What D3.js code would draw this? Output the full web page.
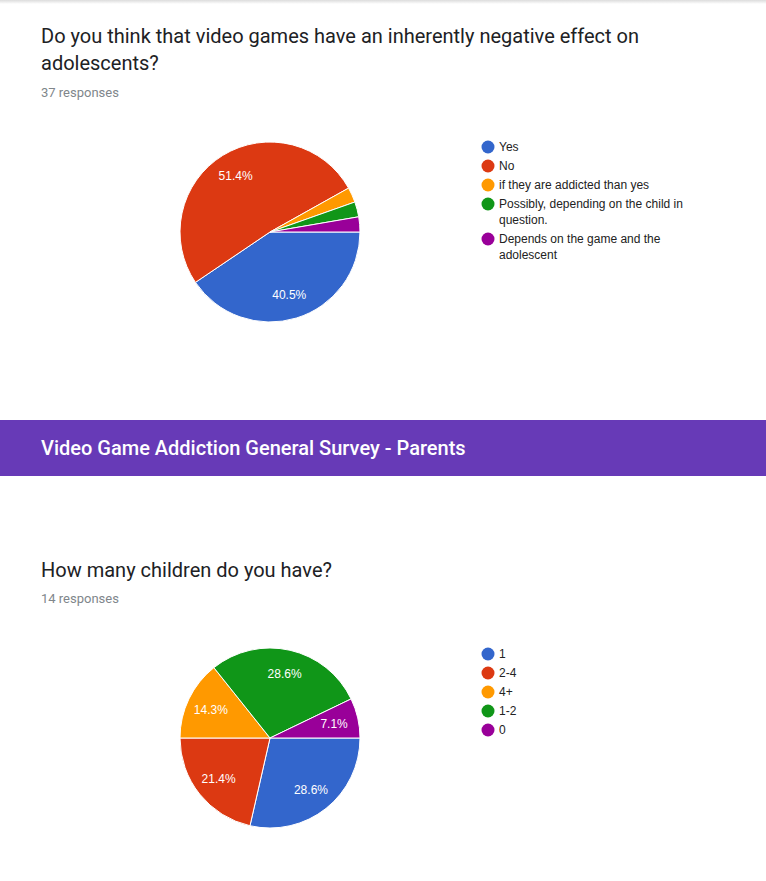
<!DOCTYPE html>
<html>
<head>
<meta charset="utf-8">
<script src="https://cdn.jsdelivr.net/npm/d3@7/dist/d3.min.js"></script>
<style>
  html, body { margin: 0; padding: 0; background: #fff; }
  svg { display: block; }
</style>
</head>
<body>
<svg id="chart" width="766" height="881"></svg>
<script>
// ---- Data ----
const q1Title = ["Do you think that video games have an inherently negative effect on", "adolescents?"];
const q1Responses = "37 responses";
const q1Labels = ["Yes", "No", "if they are addicted than yes", "Possibly, depending on the child in question.", "Depends on the game and the adolescent"];
const q1Values = [15, 19, 1, 1, 1];

const sectionTitle = "Video Game Addiction General Survey - Parents";

const q2Title = ["How many children do you have?"];
const q2Responses = "14 responses";
const q2Labels = ["1", "2-4", "4+", "1-2", "0"];
const q2Values = [4, 3, 2, 4, 1];

const colors = ["#3366cc", "#dc3912", "#ff9900", "#109618", "#990099"];

// ---- Drawing ----
const svg = d3.select("#chart");

// top shadow
const defs = svg.append("defs");
const grad = defs.append("linearGradient").attr("id", "topShadow").attr("x1", 0).attr("x2", 0).attr("y1", 0).attr("y2", 1);
grad.append("stop").attr("offset", "0%").attr("stop-color", "#dcdcdc");
grad.append("stop").attr("offset", "100%").attr("stop-color", "#ffffff");
svg.append("rect").attr("x", 0).attr("y", 0).attr("width", 766).attr("height", 4).attr("fill", "url(#topShadow)");

function drawQuestion(cfg) {
  const g = svg.append("g");
  cfg.title.forEach((line, i) => {
    g.append("text")
      .attr("x", 41).attr("y", cfg.titleY + i * 27)
      .attr("font-family", "Roboto, sans-serif").attr("font-size", 20)
      .attr("fill", "#202124").text(line);
  });
  g.append("text")
    .attr("x", 41).attr("y", cfg.respY)
    .attr("font-family", "Roboto, sans-serif").attr("font-size", 13)
    .attr("fill", "#80868b").text(cfg.responses);

  const radius = 90;
  const pie = d3.pie().sort(null).value(d => d)
    .startAngle(Math.PI / 2).endAngle(Math.PI / 2 + 2 * Math.PI);
  const arcs = pie(cfg.values);
  const arc = d3.arc().innerRadius(0).outerRadius(radius);
  const labelArc = d3.arc().innerRadius(radius * 0.73).outerRadius(radius * 0.73);
  const total = d3.sum(cfg.values);

  const pg = g.append("g").attr("transform", `translate(${cfg.cx},${cfg.cy})`);
  pg.selectAll("path").data(arcs).join("path")
    .attr("d", arc)
    .attr("fill", (d, i) => colors[i])
    .attr("stroke", "#fff").attr("stroke-width", 1);

  pg.selectAll("text").data(arcs.filter(d => d.value / total > 0.05)).join("text")
    .attr("transform", d => `translate(${labelArc.centroid(d)})`)
    .attr("text-anchor", "middle").attr("dy", "0.35em")
    .attr("font-family", "Arial, 'Liberation Sans', sans-serif").attr("font-size", 12)
    .attr("fill", "#fff")
    .text(d => (d.value / total * 100).toFixed(1) + "%");

  // legend
  const lg = g.append("g").attr("transform", `translate(488,${cfg.legendY})`);
  let y = 0;
  cfg.labels.forEach((lab, i) => {
    lg.append("circle").attr("cx", 0).attr("cy", y).attr("r", 6.5).attr("fill", colors[i]);
    const t = lg.append("text")
      .attr("x", 11).attr("y", y).attr("dy", "0.35em")
      .attr("font-family", "Arial, 'Liberation Sans', sans-serif").attr("font-size", 12)
      .attr("fill", "#222");
    // word wrap
    const words = lab.split(" ");
    let lines = [];
    let cur = "";
    const tmp = lg.append("text").attr("font-family", "Arial, 'Liberation Sans', sans-serif").attr("font-size", 12);
    words.forEach(w => {
      const test = cur ? cur + " " + w : w;
      tmp.text(test);
      if (tmp.node().getComputedTextLength() > 195 && cur) {
        lines.push(cur); cur = w;
      } else cur = test;
    });
    lines.push(cur);
    tmp.remove();
    lines.forEach((ln, j) => {
      t.append("tspan").attr("x", 11).attr("y", y + j * 16).attr("dy", "0.35em").text(ln);
    });
    y += 19 + (lines.length - 1) * 16;
  });
}

drawQuestion({
  title: q1Title, titleY: 43, respY: 97, responses: q1Responses,
  labels: q1Labels, values: q1Values, cx: 270, cy: 232, legendY: 147
});

// section banner
svg.append("rect").attr("x", 0).attr("y", 420).attr("width", 766).attr("height", 56).attr("fill", "#673ab7");
svg.append("text").attr("x", 41).attr("y", 455)
  .attr("font-family", "Roboto, sans-serif").attr("font-size", 20).attr("font-weight", 500)
  .attr("fill", "#fff").text(sectionTitle);

drawQuestion({
  title: q2Title, titleY: 577, respY: 603, responses: q2Responses,
  labels: q2Labels, values: q2Values, cx: 270, cy: 738, legendY: 654
});
</script>
</body>
</html>
